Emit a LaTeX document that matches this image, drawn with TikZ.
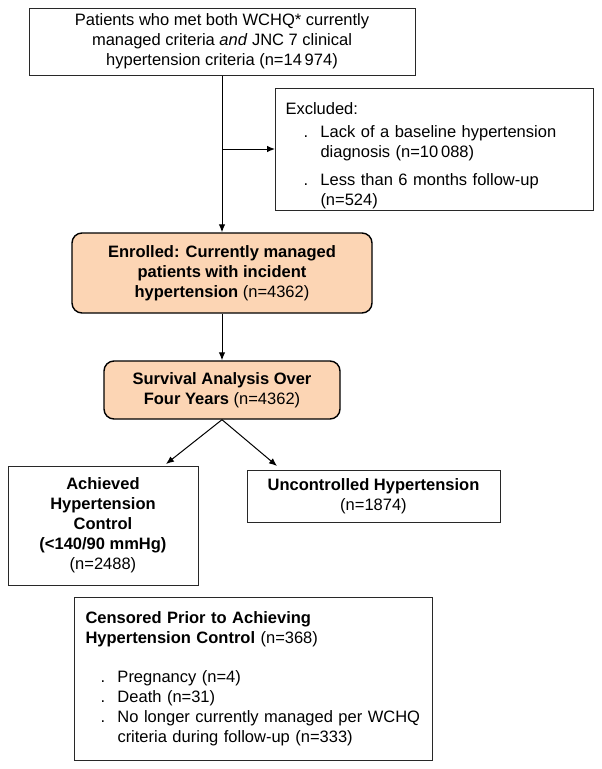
\documentclass[tikz,border=0pt]{standalone}
\usepackage{fontspec}
\setmainfont{Liberation Sans}
\usetikzlibrary{arrows.meta}
\definecolor{peach}{RGB}{252,213,180}
\definecolor{edgegray}{RGB}{40,40,40}
\begin{document}
\begin{tikzpicture}[x=1pt,y=-1pt,
  every node/.style={font=\fontsize{16.5}{20}\selectfont, inner sep=0pt},
  plainbox/.style={draw=edgegray, line width=1pt, align=center},
  listbox/.style={draw=edgegray, line width=1pt, align=left, anchor=north west, inner xsep=10pt},
  roundbox/.style={draw=black, line width=1.4pt, fill=peach, rounded corners=10pt, align=center},
  arr/.style={draw=black, line width=1pt, -{Latex[length=8pt,width=6.5pt]}}]
\useasboundingbox (0,0) rectangle (602,769);
\fill[white] (0,0) rectangle (602,769);

\node[plainbox, minimum width=386pt, minimum height=67pt] (top) at (222,41.5)
  {Patients who met both WCHQ* currently\\managed criteria \textit{and} JNC 7 clinical\\hypertension criteria (n=14\,974)};

\node[listbox, minimum width=318pt, minimum height=122pt, text width=298pt] (exc) at (275,88)
  {\rule{0pt}{24pt}Excluded:\\[3pt]
   \hspace*{18pt}\makebox[17pt][l]{.}Lack of a baseline hypertension\\
   \hspace*{35pt}diagnosis (n=10\,088)\\[8pt]
   \hspace*{18pt}\makebox[17pt][l]{.}Less than 6 months follow-up\\
   \hspace*{35pt}(n=524)};

\node[roundbox, minimum width=300pt, minimum height=80pt] (enr) at (222,273)
  {\textbf{Enrolled: Currently managed}\\\textbf{patients with incident}\\\textbf{hypertension} (n=4362)};

\node[roundbox, minimum width=236pt, minimum height=58pt] (surv) at (222,390)
  {\textbf{Survival Analysis Over}\\\textbf{Four Years} (n=4362)};

\node[plainbox, minimum width=190pt, minimum height=119pt] (ach) at (103,525.5)
  {\textbf{Achieved}\\\textbf{Hypertension}\\\textbf{Control}\\\textbf{(<140/90 mmHg)}\\(n=2488)};

\node[plainbox, minimum width=253pt, minimum height=52pt] (unc) at (373.5,496)
  {\textbf{Uncontrolled Hypertension}\\(n=1874)};

\node[listbox, minimum width=358pt, minimum height=163pt, text width=336pt, inner xsep=11pt] (cen) at (74,597)
  {\textbf{Censored Prior to Achieving}\\
   \textbf{Hypertension Control} (n=368)\\[19pt]
   \hspace*{15pt}\makebox[17pt][l]{.}Pregnancy (n=4)\\
   \hspace*{15pt}\makebox[17pt][l]{.}Death (n=31)\\
   \hspace*{15pt}\makebox[17pt][l]{.}No longer currently managed per WCHQ\\
   \hspace*{32pt}criteria during follow-up (n=333)\\[12pt]};

\coordinate (br) at (222,149);
\coordinate (achtip) at (166,464);
\coordinate (unctip) at (277,466);

\draw[arr] (top.south) -- (enr.north);
\draw[arr] (br) -- (br -| exc.west);
\draw[arr] (enr.south) -- (surv.north);
\draw[arr] (surv.south) -- (achtip);
\draw[arr] (surv.south) -- (unctip);
\end{tikzpicture}
\end{document}
